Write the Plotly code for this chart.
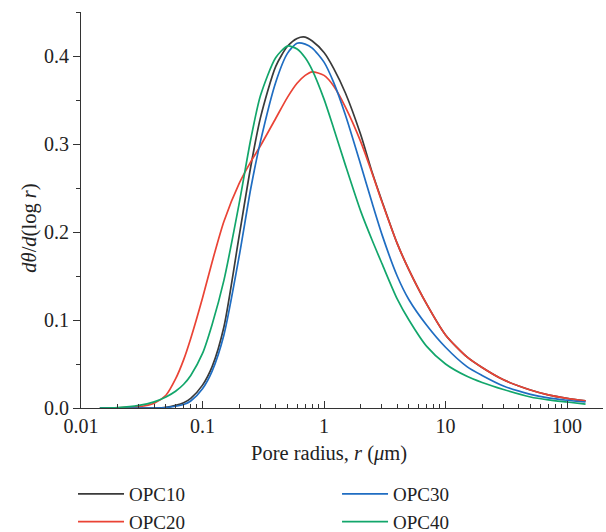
import plotly.graph_objects as go

# Pore radius (µm)
radius = [0.0143, 0.02, 0.03, 0.04, 0.05, 0.06, 0.07, 0.08, 0.1, 0.12, 0.15, 0.2, 0.25, 0.3,
          0.4, 0.5, 0.6, 0.7, 0.8, 1.0, 1.2, 1.5, 2, 2.5, 3, 4, 5, 7, 10, 15, 20, 30, 50, 70, 100, 142]

opc10 = [0, 0, 0, 0, 0.0008, 0.003, 0.006, 0.011, 0.026, 0.047, 0.092, 0.195, 0.275, 0.330,
         0.388, 0.411, 0.420, 0.4215, 0.417, 0.404, 0.386, 0.358, 0.311, 0.267, 0.235, 0.187, 0.157,
         0.118, 0.083, 0.058, 0.046, 0.032, 0.0205, 0.015, 0.011, 0.008]
opc20 = [0, 0.0002, 0.0015, 0.0055, 0.0145, 0.033, 0.055, 0.079, 0.125, 0.166, 0.212, 0.255, 0.280, 0.298,
         0.329, 0.353, 0.369, 0.378, 0.382, 0.378, 0.366, 0.342, 0.303, 0.266, 0.234, 0.187, 0.157,
         0.118, 0.083, 0.058, 0.046, 0.032, 0.0205, 0.015, 0.011, 0.008]
opc30 = [0, 0, 0, 0, 0.0005, 0.002, 0.004, 0.008, 0.022, 0.042, 0.083, 0.172, 0.250, 0.303,
         0.370, 0.403, 0.4145, 0.4135, 0.409, 0.393, 0.370, 0.333, 0.277, 0.232, 0.197, 0.150, 0.123,
         0.094, 0.069, 0.047, 0.037, 0.025, 0.0155, 0.0115, 0.0088, 0.0068]
opc40 = [0, 0.0005, 0.003, 0.007, 0.0125, 0.019, 0.027, 0.037, 0.062, 0.095, 0.145, 0.232, 0.306, 0.355,
         0.398, 0.4113, 0.408, 0.398, 0.384, 0.351, 0.318, 0.276, 0.224, 0.190, 0.164, 0.124, 0.100,
         0.070, 0.050, 0.036, 0.029, 0.021, 0.0125, 0.0092, 0.0068, 0.0045]

series_names = ["OPC10", "OPC20", "OPC30", "OPC40"]
series_values = [opc10, opc20, opc30, opc40]
series_colors = ["#3a3a3a", "#ea4335", "#1f6dc2", "#12a66b"]
series_legends = ["legend", "legend", "legend2", "legend2"]

x_tick_vals = [0.01, 0.1, 1, 10, 100]
x_tick_text = ["0.01", "0.1", "1", "10", "100"]

x_title = "Pore radius, <i>r</i> (<i>μ</i>m)"
y_title = "<i>d</i><i>θ</i>/<i>d</i>(log<i> r</i>)"

FONT = "Liberation Serif"

fig = go.Figure()
for name, vals, col, leg in zip(series_names, series_values, series_colors, series_legends):
    fig.add_trace(go.Scatter(
        x=radius, y=vals, mode="lines", name=name, legend=leg,
        line=dict(color=col, width=1.7, shape="spline", smoothing=0.7),
    ))

minor_x = [m * 10 ** k for k in range(-2, 3) for m in range(2, 10)]

legend_common = dict(
    orientation="v", xref="paper", yref="container", yanchor="top", xanchor="left",
    font=dict(family=FONT, size=19, color="#222"),
    tracegroupgap=0, itemwidth=46, bgcolor="rgba(0,0,0,0)",
)

fig.update_layout(
    width=606, height=532,
    margin=dict(l=81, r=3, t=12, b=124, autoexpand=False),
    paper_bgcolor="white", plot_bgcolor="white",
    font=dict(family=FONT, size=20, color="#222"),
    showlegend=True,
    legend=dict(x=-0.0153, y=0.1071, **legend_common),
    legend2=dict(x=0.4905, y=0.1071, **legend_common),
    xaxis=dict(
        type="log", range=[-2, 2.296],
        tickvals=x_tick_vals, ticktext=x_tick_text,
        ticks="inside", ticklen=7, tickwidth=1, tickcolor="#333",
        minor=dict(tickvals=minor_x, ticks="inside", ticklen=4, tickcolor="#333"),
        showline=True, linecolor="#333", linewidth=1,
        showgrid=False, zeroline=False,
        tickfont=dict(size=20),
    ),
    yaxis=dict(
        range=[0, 0.45], dtick=0.1, tick0=0, tickformat=".1f",
        ticks="outside", ticklen=7, tickwidth=1, tickcolor="#333",
        minor=dict(dtick=0.05, ticks="outside", ticklen=4, tickcolor="#333"),
        showline=True, linecolor="#333", linewidth=1,
        showgrid=False, zeroline=False,
        tickfont=dict(size=20),
    ),
    annotations=[
        dict(text=x_title, xref="paper", yref="paper", x=0.475, y=-0.115,
             xanchor="center", yanchor="middle", showarrow=False,
             font=dict(family=FONT, size=20.5, color="#222")),
        dict(text=y_title, xref="paper", yref="paper", x=-0.098, y=0.455,
             xanchor="center", yanchor="middle", showarrow=False, textangle=-90,
             font=dict(family=FONT, size=20.5, color="#222")),
    ],
)

fig.write_html("out.html", config={"displayModeBar": False},
               post_script="document.body.style.margin='0px';")
